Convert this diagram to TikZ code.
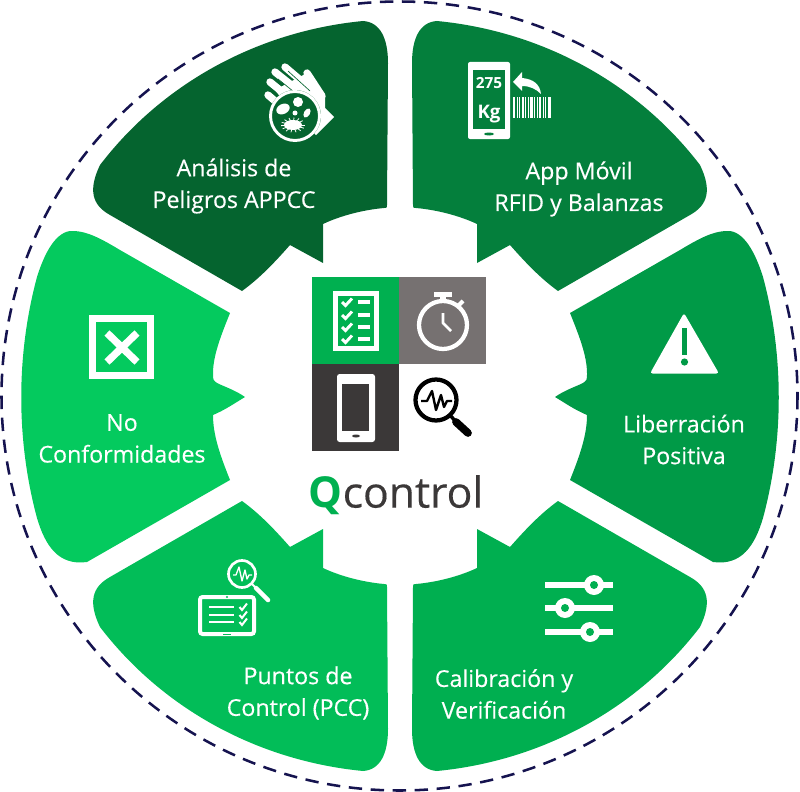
\documentclass[tikz,border=0pt]{standalone}
\usepackage{xcolor}
\usepackage{fontspec}
\setmainfont{Open Sans}
\newfontfamily\petalfont[FakeBold=0.35]{Open Sans}
\definecolor{petalA}{HTML}{05642F}
\definecolor{petalB}{HTML}{047F3C}
\definecolor{petalC}{HTML}{009A47}
\definecolor{petalD}{HTML}{00AF50}
\definecolor{petalE}{HTML}{02BD58}
\definecolor{petalF}{HTML}{04CA5E}
\definecolor{boxgreen}{HTML}{00B050}
\definecolor{boxgray}{HTML}{767171}
\definecolor{boxdark}{HTML}{3B3838}
\definecolor{ringblue}{HTML}{15134F}
% pixel coordinates, y going down
\tikzset{
    petallabel/.style={text=white, align=center, font=\fontsize{17.4}{23.8}\petalfont\selectfont},
    tickmark/.style={white, line width=2.2pt},
    pulse/.style={line width=1.8pt, line join=round}
}
\newcommand{\cornerpetal}{
    (363,21) .. controls (380,22) and (388,38) .. (388,63)
    -- (387,205) .. controls (387,208) .. (384,208)
    .. controls (362,210) and (340,216) .. (323,224)
    -- (323,263) -- (290,245)
    .. controls (275,262) and (260,278) .. (242,291)
    -- (110,215) .. controls (92,205) and (88,190) .. (100,165)
    .. controls (163.5,82) and (259.5,31) .. (363,21) -- cycle}
\newcommand{\sidepetal}{
    (75,231) .. controls (60,229) and (47,245) .. (37,277)
    .. controls (16,355) and (16,440) .. (37,518)
    .. controls (45,545) and (58,566) .. (87,562)
    -- (230,480) .. controls (220,455) and (213,435) .. (213,415)
    .. controls (225,410) and (235,403) .. (245,397)
    .. controls (235,390) and (225,387) .. (217,383)
    .. controls (213,380) .. (213,373)
    .. controls (213,355) and (222,333) .. (230,313)
    -- (120,250) .. controls (100,238) and (88,232) .. (75,231) -- cycle}
\begin{document}
\begin{tikzpicture}[x=0.75pt, y=-0.75pt]
    \useasboundingbox (0,0) rectangle (800,792);

    % outer ring and the six petals
    \draw[ringblue, line width=1.9pt, dash pattern=on 10pt off 6.5pt] (399.5,396) ellipse (398 and 394.5);
    \fill[petalA] \cornerpetal;
    \fill[petalB, shift={(800,0)}, xscale=-1] \cornerpetal;
    \fill[petalC, shift={(800,0)}, xscale=-1] \sidepetal;
    \fill[petalD, shift={(800,792)}, xscale=-1, yscale=-1] \cornerpetal;
    \fill[petalE, shift={(0,792)}, yscale=-1] \cornerpetal;
    \fill[petalF] \sidepetal;

    % labels
    \node[petallabel] (analisis) at (234,186) {Análisis de\\Peligros APPCC};
    \node[petallabel] (appmovil) at (579,189) {App Móvil\\RFID y Balanzas};
    \node[petallabel] (liberacion) at (684,439.5) {Liberración\\Positiva};
    \node[petallabel] (calibracion) at (504,694) {Calibración y\\Verificación};
    \node[petallabel] (puntos) at (298,693) {Puntos de\\Control (PCC)};
    \node[petallabel] (noconf) at (122,438.5) {No\\Conformidades};

    % centre squares
    \fill[boxgreen] (312,277) rectangle (399,364);
    \fill[boxgray] (399,277) rectangle (486,364);
    \fill[boxdark] (312,364) rectangle (399,451);

    % checklist
    \draw[white, line width=3.7pt] (335.5,293.5) rectangle (376.5,348.5);
    \foreach \r in {302,315,327,339} {
        \draw[tickmark, shift={(347,\r)}] (-5,0) -- (-1.5,3.5) -- (5,-3.5);
        \draw[white, line width=2.4pt] (358,\r) -- (370,\r);
    }

    % stopwatch
    \draw[white, line width=3.2pt] (443,325) circle (24);
    \fill[white] (434,292) rectangle (452,297);
    \fill[white] (440,297) rectangle (446,302);
    \draw[white, line width=3pt] (458,306) -- (463,301);
    \draw[white, line width=2.1pt, line join=round] (443,313) -- (443,323) -- (451,331);

    % phone
    \fill[white, rounded corners=2pt] (337,374) rectangle (375,442);
    \fill[boxdark] (342,384) rectangle (369,431);
    \fill[boxdark] (356,436) ellipse (4 and 1.5);

    % magnifier
    \draw[black, line width=3.2pt] (436,400) circle (20.5);
    \draw[black, line width=2.6pt] (450,415) -- (456,422);
    \draw[black, line width=5.8pt, line cap=round] (456,422) -- (468,433);
    \draw[black, pulse] (421,401) -- (427,401) -- (432,391) -- (436,410) -- (441,395) -- (444,407) -- (447,401) -- (452,401);

    \node[font=\fontsize{32}{32}\petalfont\selectfont, text=boxdark, inner sep=0pt] (qcontrol) at (396,495) {\textcolor{boxgreen}{\fontspec{Open Sans}\textbf{Q}}control};

    % hand with the culture dish
    \fill[white] (307,73) -- (325,95) -- (325,108) -- (334,117) -- (316,135) -- (295,116) -- (275,90) -- cycle;
    \draw[white, line width=5.5pt, line cap=round] (275,72) -- (300,92);
    \draw[white, line width=5.5pt, line cap=round] (285,67) -- (312,90);
    \draw[white, line width=5.5pt, line cap=round] (270,82) -- (292,100);
    \draw[white, line width=5.5pt, line cap=round] (268,95) -- (282,107);
    \draw[white, line width=5.5pt, line cap=round] (307,73) -- (322,96);
    \draw[petalA, line width=0.5pt] (278,79) -- (299,96);
    \draw[petalA, line width=0.5pt] (288,71) -- (310,91);
    \draw[petalA, line width=0.5pt] (273,92) -- (287,104);
    \fill[petalA] (295,116) circle (26);
    \draw[white, line width=2.2pt] (295,116) circle (24.5);
    \fill[white, rotate around={25:(283,109)}] (283,109) ellipse (7 and 5);
    \fill[white] (298,102) circle (5);
    \fill[white] (295,113) circle (2.5);
    \fill[white, rotate around={-30:(307,113)}] (307,113) ellipse (3 and 5);
    \fill[white] (293,125) ellipse (9 and 5);
    \foreach \a in {0,25,...,335} {
        \draw[white, line width=0.6pt] (293,125) -- ++(\a:12 and 7.5);
    }

    % app icon
    \fill[white, rounded corners=1.5pt] (468,62) rectangle (510,139);
    \fill[petalB] (473,70) rectangle (505,129);
    \fill[petalB] (489,134) ellipse (5 and 1.5);
    \node[text=white, font=\fontsize{11.5}{11.5}\bfseries\selectfont, inner sep=0pt] (peso) at (489,83.5) {275};
    \node[text=white, font=\fontsize{14}{14}\bfseries\selectfont, inner sep=0pt] (unidad) at (489,114) {Kg};
    \fill[white] (513,82) -- (522,72) -- (522,78) .. controls (533,79) and (540,84) .. (541,94) .. controls (536,89) and (530,86) .. (522,86) -- (522,91) -- cycle;
    \foreach \b/\w in {513/2,516.5/1,519/1,521.5/2,525/1,527.5/1,530/2.5,534/1,536.5/1,539/2,542.5/1,545/1,547.5/3.5} {
        \fill[white] (\b,97) rectangle ++(\w,21);
    }

    % warning sign
    \fill[white, rounded corners=2pt] (684,313) -- (719,373.5) -- (650,373.5) -- cycle;
    \fill[petalC] (682,328) rectangle (687,355);
    \fill[petalC] (684.5,362) circle (3.6);

    % sliders
    \foreach \r/\k in {585/594,608/565,632/590} {
        \fill[white] (545,\r-3.3) rectangle (613,\r+3.3);
        \fill[white] (\k,\r) circle (10);
        \fill[petalD] (\k,\r) circle (4);
    }

    % tablet and magnifier
    \draw[white, line width=3pt, rounded corners=2pt] (200,597) rectangle (254,634);
    \fill[petalE] (227,597) circle (1.2);
    \fill[petalE] (223,633.5) rectangle (231,634.5);
    \foreach \r in {607,615,622} {
        \draw[white, line width=1.3pt] (209,\r) -- (234,\r);
        \draw[white, line width=1.5pt, shift={(243,\r)}] (-3.5,0) -- (-1,3) -- (4,-3.5);
    }
    \draw[white, line width=2pt] (242,574) circle (13.5);
    \draw[white, line width=1.4pt] (252,584) -- (256,588);
    \draw[white, line width=3.4pt, line cap=round] (256,588) -- (268,600);
    \draw[white, pulse, line width=1pt] (233,575) -- (236,575) -- (239,567) -- (242,581) -- (245,570) -- (247,579) -- (249,575) -- (252,575);

    % box with a cross
    \draw[white, line width=5.5pt, line join=miter] (92.5,318.5) rectangle (150.5,375.5);
    \draw[white, line width=5.5pt] (107,333) -- (137,362);
    \draw[white, line width=5.5pt] (137,333) -- (107,362);
\end{tikzpicture}
\end{document}
